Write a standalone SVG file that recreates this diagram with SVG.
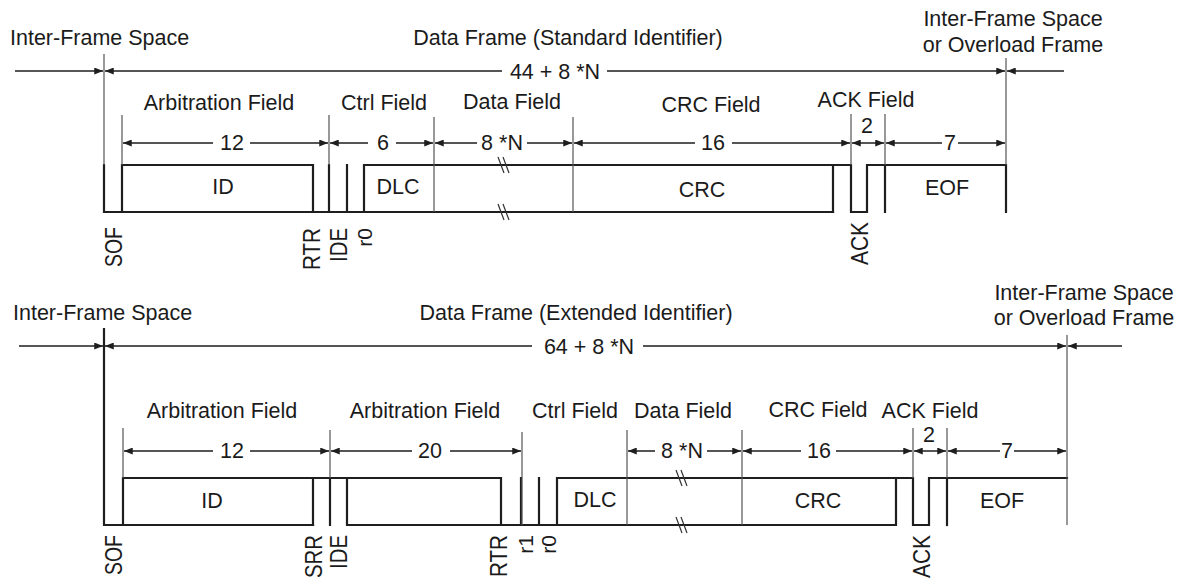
<svg xmlns="http://www.w3.org/2000/svg" width="1186" height="578" viewBox="0 0 1186 578">
  <style>
    text { font-family: "Liberation Sans", Arial, sans-serif; font-size: 21.5px; fill: #1b1b1b; }
    .c { text-anchor: middle; }
    .bit { font-size: 23px; text-anchor: end; }
    .bit.s { font-size: 21px; }
    .sig { fill: none; stroke: #1e1e1e; stroke-width: 2.2; stroke-linecap: square; }
    .ext { fill: none; stroke: #555; stroke-width: 1.2; }
    .dim { fill: none; stroke: #1e1e1e; stroke-width: 1.5; marker-start: url(#ah); marker-end: url(#ah); }
    .dim1 { fill: none; stroke: #1e1e1e; stroke-width: 1.5; marker-end: url(#ah); }
    .brk { fill: none; stroke: #333; stroke-width: 1.2; }
  </style>
  <defs>
    <marker id="ah" viewBox="0 0 10 8" refX="10" refY="4" markerWidth="9" markerHeight="7" markerUnits="userSpaceOnUse" orient="auto-start-reverse">
      <path d="M0,0 L10,4 L0,8 z" fill="#1e1e1e"/>
    </marker>
  </defs>

  <!-- ===== Standard identifier frame ===== -->
  <g id="std-titles">
    <text x="10" y="45">Inter-Frame Space</text>
    <text class="c" x="568" y="45">Data Frame (Standard Identifier)</text>
    <text class="c" x="1013" y="26">Inter-Frame Space</text>
    <text class="c" x="1013" y="52">or Overload Frame</text>
    <text class="c" x="555" y="79">44 + 8 *N</text>
  </g>
  <g id="std-fields">
    <text class="c" x="219" y="110">Arbitration Field</text>
    <text class="c" x="384" y="110">Ctrl Field</text>
    <text class="c" x="512" y="109">Data Field</text>
    <text class="c" x="711" y="112">CRC Field</text>
    <text class="c" x="866" y="107">ACK Field</text>
  </g>
  <g id="std-counts">
    <text class="c" x="232" y="150">12</text>
    <text class="c" x="383" y="150">6</text>
    <text class="c" x="502" y="150">8 *N</text>
    <text class="c" x="713" y="150">16</text>
    <text class="c" x="867" y="133">2</text>
    <text class="c" x="950" y="150">7</text>
  </g>
  <g id="std-waveform">
    <path class="sig" d="M104,165 V212 H833"/>
    <path class="sig" d="M122,212 V165 H313 V212"/>
    <path class="sig" d="M329,165 V212 M347,165 V212"/>
    <path class="sig" d="M364,212 V165 H851 V212 H867 V165 H1006 V212"/>
    <path class="sig" d="M833,165 V212 M885,165 V212"/>
    <path class="brk" d="M498,157 L504,173 M503,157 L509,173 M498,204 L504,220 M503,204 L509,220"/>
    <text class="c" x="223" y="194">ID</text>
    <text class="c" x="398" y="194">DLC</text>
    <text class="c" x="702" y="197">CRC</text>
    <text class="c" x="947" y="195">EOF</text>
  </g>
  <g id="std-bits">
    <text class="bit" transform="translate(122,227) rotate(-90)" textLength="40" lengthAdjust="spacingAndGlyphs">SOF</text>
    <text class="bit" transform="translate(320,228) rotate(-90)" textLength="42" lengthAdjust="spacingAndGlyphs">RTR</text>
    <text class="bit" transform="translate(347,228) rotate(-90)" textLength="34" lengthAdjust="spacingAndGlyphs">IDE</text>
    <text class="bit s" transform="translate(372,228) rotate(-90)">r0</text>
    <text class="bit" transform="translate(868,222) rotate(-90)" textLength="43" lengthAdjust="spacingAndGlyphs">ACK</text>
  </g>

  <!-- ===== Extended identifier frame ===== -->
  <g id="ext-titles">
    <text x="13" y="320">Inter-Frame Space</text>
    <text class="c" x="576" y="320">Data Frame (Extended Identifier)</text>
    <text class="c" x="1084" y="300">Inter-Frame Space</text>
    <text class="c" x="1084" y="325">or Overload Frame</text>
    <text class="c" x="589" y="354">64 + 8 *N</text>
  </g>
  <g id="ext-fields">
    <text class="c" x="222" y="418">Arbitration Field</text>
    <text class="c" x="425" y="418">Arbitration Field</text>
    <text class="c" x="575" y="418">Ctrl Field</text>
    <text class="c" x="683" y="418">Data Field</text>
    <text class="c" x="818" y="417">CRC Field</text>
    <text class="c" x="930" y="418">ACK Field</text>
  </g>
  <g id="ext-counts">
    <text class="c" x="232" y="458">12</text>
    <text class="c" x="430" y="458">20</text>
    <text class="c" x="682" y="458">8 *N</text>
    <text class="c" x="819" y="458">16</text>
    <text class="c" x="929" y="442">2</text>
    <text class="c" x="1007" y="458">7</text>
  </g>
  <g id="ext-waveform">
    <path class="sig" d="M104,329 V525 H313"/>
    <path class="sig" d="M123,525 V478 H501 V525"/>
    <path class="sig" d="M313,478 V525 M330,478 V525"/>
    <path class="sig" d="M347,478 V525 H896 V478"/>
    <path class="sig" d="M521,478 V525 M539,478 V525"/>
    <path class="sig" d="M557,525 V478 H913 V525 H929 V478 H1067"/>
    <path class="sig" d="M947,478 V525"/>
    <path class="brk" d="M676,470 L682,486 M681,470 L687,486 M676,517 L682,533 M681,517 L687,533"/>
    <text class="c" x="212" y="508">ID</text>
    <text class="c" x="595" y="507">DLC</text>
    <text class="c" x="818" y="508">CRC</text>
    <text class="c" x="1002" y="508">EOF</text>
  </g>
  <g id="ext-bits">
    <text class="bit" transform="translate(122,535) rotate(-90)" textLength="40" lengthAdjust="spacingAndGlyphs">SOF</text>
    <text class="bit" transform="translate(322,535) rotate(-90)" textLength="43" lengthAdjust="spacingAndGlyphs">SRR</text>
    <text class="bit" transform="translate(347,535) rotate(-90)" textLength="34" lengthAdjust="spacingAndGlyphs">IDE</text>
    <text class="bit" transform="translate(507,535) rotate(-90)" textLength="42" lengthAdjust="spacingAndGlyphs">RTR</text>
    <text class="bit s" transform="translate(533,535) rotate(-90)">r1</text>
    <text class="bit s" transform="translate(556,535) rotate(-90)">r0</text>
    <text class="bit" transform="translate(930,535) rotate(-90)" textLength="43" lengthAdjust="spacingAndGlyphs">ACK</text>
  </g>

  <!-- ===== Dimension and extension lines ===== -->
  <g id="connectors">
    <!-- standard frame: extension lines -->
    <path class="ext" d="M104,54 V165 M122,115 V165 M329,115 V165 M434,117 V212 M573,117 V212 M851,114 V165 M885,114 V165 M1006,58 V165"/>
    <!-- standard frame: overall length -->
    <path class="dim1" d="M15,71 H103"/>
    <path class="dim" d="M105,71 H502 M607,71 H1005"/>
    <path class="dim1" d="M1064,71 H1007"/>
    <!-- standard frame: field lengths -->
    <path class="dim" d="M123,143 H213 M250,143 H328"/>
    <path class="dim" d="M330,143 H368 M396,143 H433"/>
    <path class="dim" d="M435,143 H477 M527,143 H572"/>
    <path class="dim" d="M574,143 H695 M732,143 H850"/>
    <path class="dim" d="M852,143 H884"/>
    <path class="dim" d="M886,143 H942 M958,143 H1005"/>

    <!-- extended frame: extension lines -->
    <path class="ext" d="M123,428 V478 M330,430 V478 M522,432 V525 M627,430 V525 M742,430 V525 M913,428 V478 M947,428 V478 M1067,335 V525"/>
    <!-- extended frame: overall length -->
    <path class="dim1" d="M19,346 H103"/>
    <path class="dim" d="M105,346 H532 M643,346 H1066"/>
    <path class="dim1" d="M1122,346 H1068"/>
    <!-- extended frame: field lengths -->
    <path class="dim" d="M124,451 H213 M250,451 H329"/>
    <path class="dim" d="M331,451 H412 M450,451 H521"/>
    <path class="dim" d="M628,451 H655 M707,451 H741"/>
    <path class="dim" d="M743,451 H801 M836,451 H912"/>
    <path class="dim" d="M914,451 H946"/>
    <path class="dim" d="M948,451 H1000 M1014,451 H1066"/>
  </g>
</svg>
